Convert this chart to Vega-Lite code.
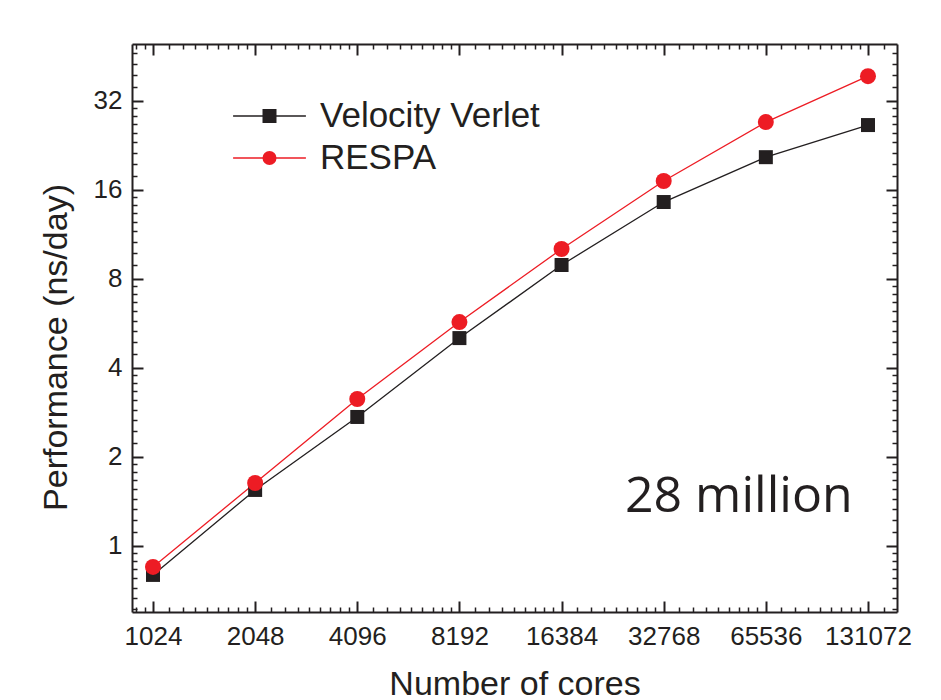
{
  "$schema": "https://vega.github.io/schema/vega-lite/v6.json",
  "width": 765,
  "height": 568,
  "autosize": {"type": "none"},
  "padding": {"left": 132, "top": 44, "right": 44, "bottom": 88},
  "background": "white",
  "config": {
    "view": {"stroke": null},
    "axis": {
      "grid": false,
      "labelFont": "Liberation Sans",
      "titleFont": "Liberation Sans",
      "labelColor": "#231f20",
      "titleColor": "#231f20",
      "domainColor": "#231f20",
      "tickColor": "#231f20",
      "domainWidth": 2,
      "tickWidth": 2,
      "titleFontWeight": "normal"
    },
    "legend": {"labelFont": "Liberation Sans", "labelLimit": 500}
  },
  "data": {
    "values": [
      {"series": "Velocity Verlet", "cores": 1024, "perf": 0.798},
      {"series": "Velocity Verlet", "cores": 2048, "perf": 1.546},
      {"series": "Velocity Verlet", "cores": 4096, "perf": 2.728},
      {"series": "Velocity Verlet", "cores": 8192, "perf": 5.04},
      {"series": "Velocity Verlet", "cores": 16384, "perf": 8.9},
      {"series": "Velocity Verlet", "cores": 32768, "perf": 14.53},
      {"series": "Velocity Verlet", "cores": 65536, "perf": 20.6},
      {"series": "Velocity Verlet", "cores": 131072, "perf": 26.45},
      {"series": "RESPA", "cores": 1024, "perf": 0.849},
      {"series": "RESPA", "cores": 2048, "perf": 1.632},
      {"series": "RESPA", "cores": 4096, "perf": 3.138},
      {"series": "RESPA", "cores": 8192, "perf": 5.71},
      {"series": "RESPA", "cores": 16384, "perf": 10.08},
      {"series": "RESPA", "cores": 32768, "perf": 17.11},
      {"series": "RESPA", "cores": 65536, "perf": 27.07},
      {"series": "RESPA", "cores": 131072, "perf": 38.7}
    ]
  },
  "layer": [
    {
      "mark": {"type": "line", "strokeWidth": 1.3},
      "encoding": {
        "x": {
          "field": "cores", "type": "quantitative",
          "scale": {"type": "log", "base": 2, "domain": [888, 159600], "nice": false},
          "axis": {
            "orient": "bottom",
            "values": [1024, 2048, 4096, 8192, 16384, 32768, 65536, 131072],
            "format": "d",
            "tickSize": -11,
            "labelFontSize": 26,
            "labelPadding": 22,
            "labelFlush": false,
            "labelOverlap": false,
            "title": "Number of cores",
            "titleFontSize": 34,
            "titlePadding": 18
          }
        },
        "y": {
          "field": "perf", "type": "quantitative",
          "scale": {"type": "log", "base": 2, "domain": [0.598, 49.7], "nice": false},
          "axis": {
            "orient": "left",
            "values": [1, 2, 4, 8, 16, 32],
            "format": "d",
            "tickSize": -11,
            "labelFontSize": 26,
            "labelPadding": 21,
            "labelFlush": false,
            "labelOverlap": false,
            "title": "Performance (ns/day)",
            "titleFontSize": 34,
            "titlePadding": 20,
            "titleY": 303
          }
        },
        "color": {
          "field": "series", "type": "nominal",
          "scale": {"domain": ["Velocity Verlet", "RESPA"], "range": ["#231f20", "#ed1c24"]},
          "legend": {
            "orient": "none", "legendX": 120, "legendY": 54.5,
            "title": null, "padding": 0, "offset": 0,
            "symbolType": "M-5.2,0H5.2", "symbolSize": 196, "symbolStrokeWidth": 1.3,
            "labelFontSize": 35, "labelColor": "#231f20", "labelOffset": 33,
            "rowPadding": 6
          }
        }
      }
    },
    {
      "mark": {"type": "point", "filled": true, "opacity": 1},
      "encoding": {
        "x": {
          "field": "cores", "type": "quantitative",
          "axis": {
            "orient": "top",
            "values": [1024, 2048, 4096, 8192, 16384, 32768, 65536, 131072],
            "tickSize": -11, "labels": false, "title": null
          }
        },
        "y": {
          "field": "perf", "type": "quantitative",
          "axis": {
            "orient": "right",
            "values": [1, 2, 4, 8, 16, 32],
            "tickSize": -11, "labels": false, "title": null
          }
        },
        "color": {
          "field": "series", "type": "nominal",
          "scale": {"domain": ["Velocity Verlet", "RESPA"], "range": ["#231f20", "#ed1c24"]},
          "legend": {
            "orient": "none", "legendX": 120, "legendY": 54.5,
            "title": null, "padding": 0, "offset": 0,
            "symbolSize": 196, "symbolStrokeWidth": 0,
            "labelFontSize": 35, "labelOpacity": 0, "labelOffset": 33,
            "rowPadding": 6
          }
        },
        "shape": {
          "field": "series", "type": "nominal",
          "scale": {"domain": ["Velocity Verlet", "RESPA"], "range": ["square", "circle"]},
          "legend": {
            "orient": "none", "legendX": 120, "legendY": 54.5,
            "title": null, "padding": 0, "offset": 0,
            "symbolSize": 196, "symbolStrokeWidth": 0,
            "labelFontSize": 35, "labelOpacity": 0, "labelOffset": 33,
            "rowPadding": 6
          }
        },
        "size": {
          "field": "series", "type": "nominal",
          "scale": {"domain": ["Velocity Verlet", "RESPA"], "range": [196, 256]},
          "legend": null
        }
      }
    },
    {
      "mark": {"type": "point", "opacity": 0},
      "encoding": {
        "x": {
          "field": "cores", "type": "quantitative",
          "axis": {
            "orient": "bottom", "domain": false, "labels": false, "title": null,
            "tickSize": -5, "tickWidth": 1.5,
            "values": [910.2, 967.1, 1137.8, 1251.6, 1365.3, 1479.1, 1592.9, 1706.7, 1820.4, 1934.2, 2275.6, 2503.1, 2730.7, 2958.2, 3185.8, 3413.3, 3640.9, 3868.4, 4551.1, 5006.2, 5461.3, 5916.4, 6371.6, 6826.7, 7281.8, 7736.9, 9102.2, 10012.4, 10922.7, 11832.9, 12743.1, 13653.3, 14563.6, 15473.8, 18204.4, 20024.9, 21845.3, 23665.8, 25486.2, 27306.7, 29127.1, 30947.6, 36408.9, 40049.8, 43690.7, 47331.6, 50972.4, 54613.3, 58254.2, 61895.1, 72817.8, 80099.6, 87381.3, 94663.1, 101944.9, 109226.7, 116508.4, 123790.2, 145635.6]
          }
        },
        "y": {
          "field": "perf", "type": "quantitative",
          "axis": {
            "orient": "left", "domain": false, "labels": false, "title": null,
            "tickSize": -5, "tickWidth": 1.5,
            "values": [0.6111, 0.6667, 0.7222, 0.7778, 0.8333, 0.8889, 0.9444, 1.1111, 1.2222, 1.3333, 1.4444, 1.5556, 1.6667, 1.7778, 1.8889, 2.2222, 2.4444, 2.6667, 2.8889, 3.1111, 3.3333, 3.5556, 3.7778, 4.4444, 4.8889, 5.3333, 5.7778, 6.2222, 6.6667, 7.1111, 7.5556, 8.8889, 9.7778, 10.6667, 11.5556, 12.4444, 13.3333, 14.2222, 15.1111, 17.7778, 19.5556, 21.3333, 23.1111, 24.8889, 26.6667, 28.4444, 30.2222, 35.5556, 39.1111, 42.6667, 46.2222]
          }
        }
      }
    },
    {
      "mark": {"type": "point", "opacity": 0},
      "encoding": {
        "x": {
          "field": "cores", "type": "quantitative",
          "axis": {
            "orient": "top", "domain": false, "labels": false, "title": null,
            "tickSize": -5, "tickWidth": 1.5,
            "values": [910.2, 967.1, 1137.8, 1251.6, 1365.3, 1479.1, 1592.9, 1706.7, 1820.4, 1934.2, 2275.6, 2503.1, 2730.7, 2958.2, 3185.8, 3413.3, 3640.9, 3868.4, 4551.1, 5006.2, 5461.3, 5916.4, 6371.6, 6826.7, 7281.8, 7736.9, 9102.2, 10012.4, 10922.7, 11832.9, 12743.1, 13653.3, 14563.6, 15473.8, 18204.4, 20024.9, 21845.3, 23665.8, 25486.2, 27306.7, 29127.1, 30947.6, 36408.9, 40049.8, 43690.7, 47331.6, 50972.4, 54613.3, 58254.2, 61895.1, 72817.8, 80099.6, 87381.3, 94663.1, 101944.9, 109226.7, 116508.4, 123790.2, 145635.6]
          }
        },
        "y": {
          "field": "perf", "type": "quantitative",
          "axis": {
            "orient": "right", "domain": false, "labels": false, "title": null,
            "tickSize": -5, "tickWidth": 1.5,
            "values": [0.6111, 0.6667, 0.7222, 0.7778, 0.8333, 0.8889, 0.9444, 1.1111, 1.2222, 1.3333, 1.4444, 1.5556, 1.6667, 1.7778, 1.8889, 2.2222, 2.4444, 2.6667, 2.8889, 3.1111, 3.3333, 3.5556, 3.7778, 4.4444, 4.8889, 5.3333, 5.7778, 6.2222, 6.6667, 7.1111, 7.5556, 8.8889, 9.7778, 10.6667, 11.5556, 12.4444, 13.3333, 14.2222, 15.1111, 17.7778, 19.5556, 21.3333, 23.1111, 24.8889, 26.6667, 28.4444, 30.2222, 35.5556, 39.1111, 42.6667, 46.2222]
          }
        }
      }
    },
    {
      "data": {"values": [{"label": "28 million", "cores": 54540, "perf": 1.464}]},
      "mark": {"type": "text", "font": "Open Sans", "fontSize": 50, "color": "#231f20", "align": "center", "baseline": "middle"},
      "encoding": {
        "x": {"field": "cores", "type": "quantitative", "axis": null},
        "y": {"field": "perf", "type": "quantitative", "axis": null},
        "text": {"field": "label"}
      }
    }
  ],
  "resolve": {
    "scale": {"color": "independent", "shape": "independent"},
    "axis": {"x": "independent", "y": "independent"}
  }
}
